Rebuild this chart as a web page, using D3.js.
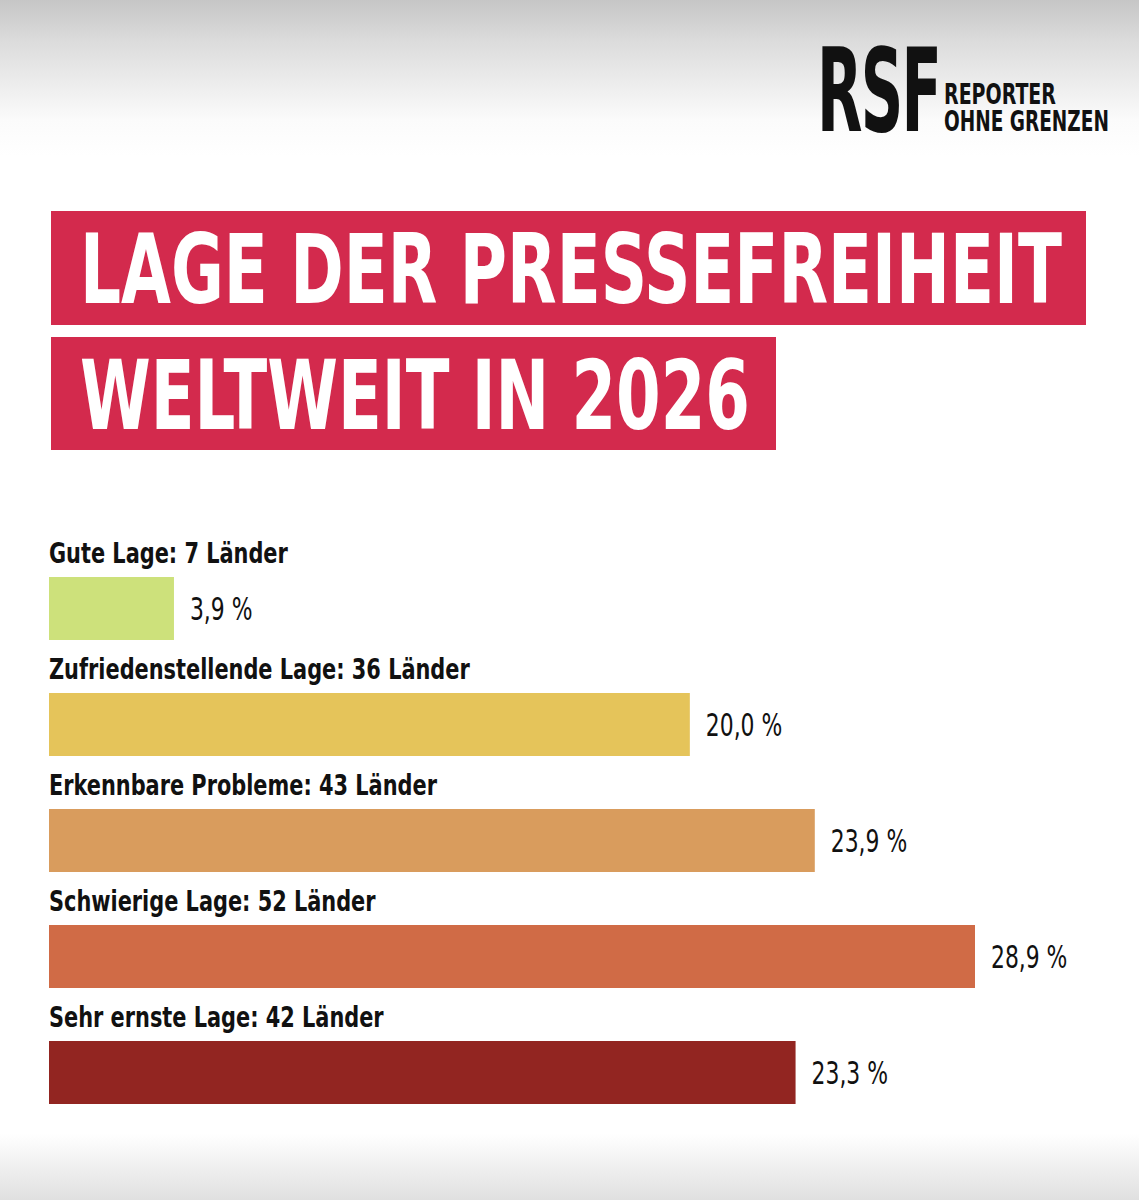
<!DOCTYPE html>
<html><head><meta charset="utf-8">
<script src="https://cdn.jsdelivr.net/npm/d3@7"></script>
<style>html,body{margin:0;padding:0;background:#fff;}svg{display:block;}</style>
</head><body>
<div id="chart"></div>
<script>
// ---- data ----
const categories = ["Gute Lage", "Zufriedenstellende Lage", "Erkennbare Probleme", "Schwierige Lage", "Sehr ernste Lage"];
const countries = [7, 36, 43, 52, 42];
const percents = [3.9, 20.0, 23.9, 28.9, 23.3];
const colors = ["#cde17b", "#e5c45a", "#d99c5d", "#d06b46", "#922521"];
const titleLines = ["LAGE DER PRESSEFREIHEIT", "WELTWEIT IN 2026"];
const logoLines = ["REPORTER", "OHNE GRENZEN"];

const W = 1139, H = 1200;
const svg = d3.select("#chart").append("svg").attr("width", W).attr("height", H);
const defs = svg.append("defs");
const bg = defs.append("linearGradient").attr("id","bg").attr("x1",0).attr("y1",0).attr("x2",0).attr("y2",1);
[[0,"#c6c6c6"],[0.035,"#dcdcdc"],[0.1,"#fbfbfb"],[0.13,"#ffffff"],[0.945,"#ffffff"],[0.975,"#eeeeee"],[1,"#e0e0e0"]]
  .forEach(([o,c]) => bg.append("stop").attr("offset",o).attr("stop-color",c));
svg.append("rect").attr("width",W).attr("height",H).attr("fill","url(#bg)");

const condBold = "'Liberation Sans Narrow','DejaVu Sans Condensed','Roboto',sans-serif";

function fitX(sel, target, sy) {
  sel.each(function(){
    const t = d3.select(this);
    const x0 = +t.attr("x"), y0 = +t.attr("y");
    const w = this.getComputedTextLength();
    const sx = target / w;
    t.attr("transform", `translate(${x0},${y0}) scale(${sx},${sy||1}) translate(${-x0},${-y0})`);
  });
}
function condense(sel, sx) {
  sel.each(function(){
    const t = d3.select(this); const x0 = +t.attr("x");
    t.attr("transform", `translate(${x0},0) scale(${sx},1) translate(${-x0},0)`);
  });
}

// ---- logo ----
const logo = svg.append("g");
logo.append("text").attr("x",817).attr("y",131)
  .attr("font-family",condBold).attr("font-weight",900).attr("font-size",112).attr("fill","#111")
  .style("letter-spacing","-3px").text("RSF").call(fitX, 123, 1.04);
const logoWidths = [112, 165];
const logoBase = [104, 131];
logo.selectAll("text.ll").data(logoLines).join("text").attr("class","ll")
  .attr("x",944).attr("y",(d,i)=>logoBase[i])
  .attr("font-family",condBold).attr("font-weight",700).attr("font-size",25).attr("fill","#111")
  .text(d=>d)
  .each(function(d,i){ d3.select(this).call(fitX, logoWidths[i], 1.12); });

// ---- title ----
const titleBoxes = [{x:51,y:211,w:1035,h:114,tl:982},{x:51,y:337,w:725,h:113,tl:670}];
const tg = svg.append("g").selectAll("g").data(titleLines).join("g");
tg.append("rect").attr("x",(d,i)=>titleBoxes[i].x).attr("y",(d,i)=>titleBoxes[i].y)
  .attr("width",(d,i)=>titleBoxes[i].w).attr("height",(d,i)=>titleBoxes[i].h).attr("fill","#d32a4d");
tg.append("text").attr("x",80).attr("y",(d,i)=>titleBoxes[i].y+92)
  .attr("font-family",condBold).attr("font-weight",700).attr("font-size",96).attr("fill","#fff")
  .text(d=>d)
  .each(function(d,i){ d3.select(this).call(fitX, titleBoxes[i].tl, 1); });

// ---- bars ----
const x = d3.scaleLinear().domain([0, d3.max(percents)]).range([49, 975]);
const y = d3.scaleBand().domain(categories).range([530, 1110]).paddingInner(0).paddingOuter(0);
const barH = 63;
const rows = svg.append("g").selectAll("g").data(categories).join("g")
  .attr("transform", d => `translate(0,${y(d)})`);
rows.append("text").attr("x",49).attr("y",33)
  .attr("font-family",condBold).attr("font-weight",700).attr("font-size",29).attr("fill","#111")
  .text((d,i)=>`${d}: ${countries[i]} Länder`).call(condense, 0.80);
rows.append("rect").attr("x",x(0)).attr("y",47).attr("height",barH)
  .attr("width",(d,i)=>x(percents[i])-x(0)).attr("fill",(d,i)=>colors[i]);
const fmt = v => d3.format(".1f")(v).replace(".",",") + " %";
rows.append("text").attr("x",(d,i)=>x(percents[i])+16).attr("y",47+barH/2+12)
  .attr("font-family",condBold).attr("font-weight",400).attr("font-size",32).attr("fill","#111")
  .text((d,i)=>fmt(percents[i])).call(condense, 0.76);
</script>
</body></html>
